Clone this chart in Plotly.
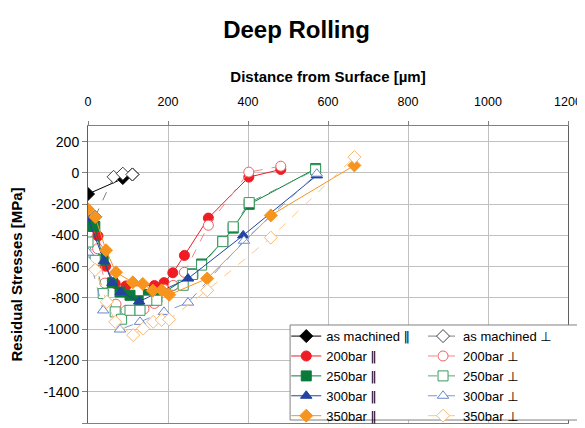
import plotly.graph_objects as go

# Distance from surface [µm] and residual stresses [MPa]
am_par_x = [0, 87, 111]
am_par_y = [-135, -33, -10]
am_perp_x = [18, 64, 87, 111]
am_perp_y = [-280, -25, -5, -10]

b200_par_x = [25, 44, 68, 95, 166, 190, 212, 241, 301, 402, 482]
b200_par_y = [-404, -597, -708, -723, -721, -702, -639, -528, -289, -27, 22]
b200_perp_x = [0, 24, 42, 70, 95, 140, 166, 190, 213, 241, 301, 402, 482]
b200_perp_y = [-385, -485, -705, -840, -880, -870, -835, -745, -720, -636, -335, 5, 43]

b250_par_x = [0, 17, 38, 61, 80, 105, 130, 151, 172, 262, 284, 337, 363, 403, 569]
b250_par_y = [-342, -342, -556, -703, -762, -783, -818, -777, -795, -646, -583, -438, -353, -201, 27]
b250_perp_x = [0, 18, 38, 68, 84, 105, 130, 151, 172, 238, 261, 284, 337, 363, 403, 569]
b250_perp_y = [-442, -559, -772, -889, -936, -879, -879, -815, -815, -719, -650, -590, -440, -345, -190, 20]

b300_par_x = [0, 40, 61, 82, 128, 185, 250, 388, 572]
b300_par_y = [-291, -565, -704, -762, -823, -753, -676, -400, -16]
b300_perp_x = [0, 38, 80, 130, 190, 250, 390, 572]
b300_perp_y = [-510, -880, -1002, -953, -889, -830, -434, -5]

b350_par_x = [0, 18, 45, 70, 112, 137, 162, 184, 203, 298, 457, 666]
b350_par_y = [-233, -282, -495, -636, -700, -710, -753, -751, -780, -676, -272, 48]
b350_perp_x = [0, 18, 47, 68, 113, 138, 163, 184, 203, 298, 457, 666]
b350_perp_y = [-580, -620, -825, -953, -1038, -996, -953, -940, -938, -751, -414, 101]

x_ticks = [0, 200, 400, 600, 800, 1000, 1200]
y_ticks = [-1600, -1400, -1200, -1000, -800, -600, -400, -200, 0, 200]

FONT = "Liberation Sans, Arial, sans-serif"
PAR = '<span style="font-family:DejaVu Sans">‖</span>'
PERP = '<span style="font-family:DejaVu Sans">⊥</span>'

series = [
    ("as machined " + PAR, am_par_x, am_par_y, "#000000", "#000000", "diamond", "solid", True),
    ("as machined " + PERP, am_perp_x, am_perp_y, "#808080", "#404040", "diamond", "dash", False),
    ("200bar " + PAR, b200_par_x, b200_par_y, "#F01C24", "#F01C24", "circle", "solid", True),
    ("200bar " + PERP, b200_perp_x, b200_perp_y, "#F08888", "#F06060", "circle", "dash", False),
    ("250bar " + PAR, b250_par_x, b250_par_y, "#0A7A3A", "#0A7A3A", "square", "solid", True),
    ("250bar " + PERP, b250_perp_x, b250_perp_y, "#5AA878", "#3A9A60", "square", "dash", False),
    ("300bar " + PAR, b300_par_x, b300_par_y, "#2244A0", "#2244A0", "triangle-up", "solid", True),
    ("300bar " + PERP, b300_perp_x, b300_perp_y, "#7C96D4", "#6A86CC", "triangle-up", "dash", False),
    ("350bar " + PAR, b350_par_x, b350_par_y, "#F7941D", "#F7941D", "diamond", "solid", True),
    ("350bar " + PERP, b350_perp_x, b350_perp_y, "#FBC888", "#F9B870", "diamond", "dash", False),
]

fig = go.Figure()
for name, xs, ys, lc, mc, sym, dash, filled in series:
    fig.add_trace(go.Scatter(
        x=xs, y=ys, name=name, mode="lines+markers",
        legend="legend" if filled else "legend2",
        line=dict(color=lc, width=1, dash=dash),
        marker=dict(symbol=sym, size=10,
                    color=mc if filled else "white",
                    line=dict(color=mc, width=1)),
    ))

# legend frame
fig.add_shape(type="rect", xref="paper", yref="paper",
              x0=0.421, x1=1.021, y0=0.010, y1=0.330,
              line=dict(color="#808080", width=1), fillcolor="white", layer="above")

leg_common = dict(orientation="v", yanchor="top", y=0.343, xanchor="left",
                  bgcolor="rgba(0,0,0,0)", borderwidth=0,
                  font=dict(size=13), tracegroupgap=0, itemwidth=30)

# page body adds an 8px margin, so the figure is sized/placed to compensate
fig.update_layout(
    width=577, height=420,
    margin=dict(l=80, r=17, t=118, b=5, autoexpand=False),
    paper_bgcolor="white", plot_bgcolor="white",
    font=dict(family=FONT, size=13, color="black"),
    title=dict(text="<b>Deep Rolling</b>", x=0.5, xanchor="center",
               y=0.948, yanchor="middle", font=dict(size=24)),
    showlegend=True,
    legend=dict(x=0.413, **leg_common),
    legend2=dict(x=0.698, **leg_common),
)
fig.update_xaxes(
    side="top", range=[0, 1200], tickvals=x_ticks,
    ticktext=[str(v) for v in x_ticks], automargin=False,
    showgrid=True, gridcolor="#C0C0C0", gridwidth=1,
    showline=True, linecolor="#808080", linewidth=1, mirror=True,
    ticks="outside", ticklen=4, tickcolor="#808080", ticklabelstandoff=10,
    zeroline=False, tickfont=dict(size=12.5),
    title=dict(text="<b>Distance from Surface [µm]</b>", font=dict(size=15), standoff=8),
)
fig.update_yaxes(
    range=[-1600, 300], tickvals=y_ticks, automargin=False,
    ticktext=[str(v) for v in y_ticks],
    showgrid=True, gridcolor="#C0C0C0", gridwidth=1,
    showline=True, linecolor="#606060", linewidth=1, mirror=True,
    ticks="outside", ticklen=5, tickcolor="#808080",
    zeroline=False, tickfont=dict(size=14),
    title=dict(text="<b>Residual Stresses [MPa]</b>", font=dict(size=15), standoff=17),
)

fig.write_html("out.html")
